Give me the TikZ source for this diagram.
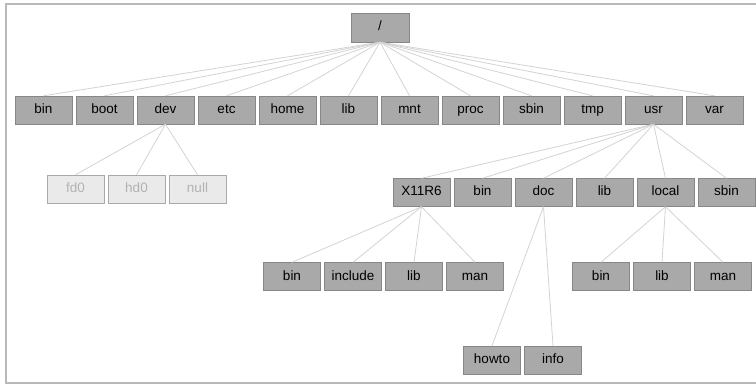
\documentclass[tikz,border=0pt]{standalone}
\usepackage[svgnames]{xcolor}
\usepackage{fontspec}
\setmainfont{Liberation Sans}
\usepackage{tikz}
\usetikzlibrary{backgrounds}

\begin{document}
\begin{tikzpicture}[x=1pt, y=-1pt,
  dirbox/.style={draw=DimGray!80, fill=DarkGray, minimum width=57pt, minimum height=28pt, inner sep=0pt, text height=10pt, text depth=3pt, font=\fontsize{13.5}{15}\selectfont},
  devbox/.style={dirbox, draw=DarkGray, fill=Gainsboro!60, text=DarkGray!90},
  link/.style={LightGray, line width=0.8pt}]
\pgfmathsetmacro{\dx}{61}
\useasboundingbox (0,0) rectangle (756,385);

% frame
\draw [Silver!90!gray, line width=2.5pt] (756,4) -- (6,4) -- (6,383) -- (756,383);

% root and first level
\node [dirbox, minimum width=58pt, minimum height=29pt] (root) at (380,27.5) {/};
\foreach \name [count=\i from 0] in {bin,boot,dev,etc,home,lib,mnt,proc,sbin,tmp,usr,var}
{
\node [dirbox] (top-\name) at (43.5+\i*\dx, 110) {\name};
\draw [link] (root.south) -- (top-\name.north);
}

% /dev
\foreach \name [count=\i from 0] in {fd0,hd0,null}
{
\node [devbox] (dev-\name) at (75.5+\i*\dx, 189) {\name};
\draw [link] (top-dev.south) -- (dev-\name.north);
}

% /usr
\foreach \name [count=\i from 0] in {X11R6,bin,doc,lib,local,sbin}
{
\node [dirbox] (usr-\name) at (421.5+\i*\dx, 192.5) {\name};
\draw [link] (top-usr.south) -- (usr-\name.north);
}

% /usr/X11R6
\foreach \name [count=\i from 0] in {bin,include,lib,man}
{
\node [dirbox] (x11-\name) at (292+\i*\dx, 276.5) {\name};
\draw [link] (usr-X11R6.south) -- (x11-\name.north);
}

% /usr/local
\foreach \name [count=\i from 0] in {bin,lib,man}
{
\node [dirbox] (local-\name) at (601+\i*\dx, 276.5) {\name};
\draw [link] (usr-local.south) -- (local-\name.north);
}

% /usr/doc
\foreach \name [count=\i from 0] in {howto,info}
{
\node [dirbox] (doc-\name) at (492+\i*\dx, 360) {\name};
\draw [link] (usr-doc.south) -- (doc-\name.north);
}
\end{tikzpicture}
\end{document}
